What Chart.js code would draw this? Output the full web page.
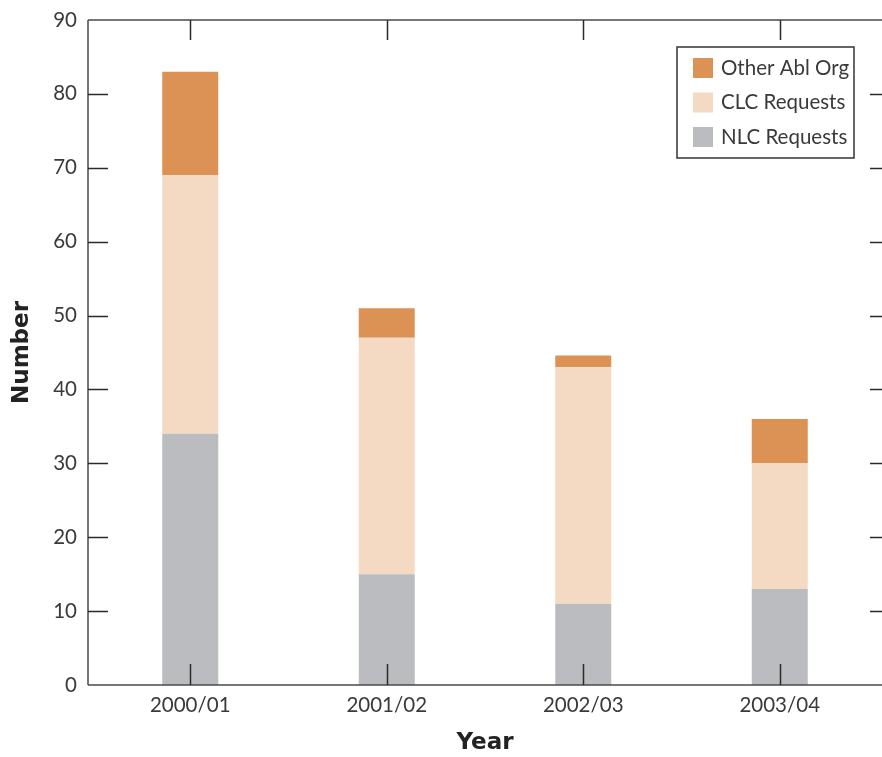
<!DOCTYPE html>
<html>
<head>
<meta charset="utf-8">
<script src="https://cdn.jsdelivr.net/npm/chart.js@4"></script>
<style>
  html, body { margin: 0; padding: 0; background: #fff; }
  #wrap { width: 882px; height: 757px; }
</style>
</head>
<body>
<div id="wrap"><canvas id="chart" width="882" height="757"></canvas></div>
<script>
// Values
const years = ['2000/01', '2001/02', '2002/03', '2003/04'];
const nlcRequests = [34, 15, 11, 13];
const clcRequests = [35, 32, 32, 17];
const otherAblOrg = [14, 4, 1.6, 6];
const yTicks = [0, 10, 20, 30, 40, 50, 60, 70, 80, 90];

const FONT = 'Lato, "Open Sans", sans-serif';
const TITLE_FONT = '"DejaVu Sans", sans-serif';
const TEXT = '#3a3a3a';

// Axis frame, inward ticks and the boxed legend
const framePlugin = {
    id: 'frame',
    afterDatasetsDraw(chart) {
        const ctx = chart.ctx;
        const x = chart.scales.x;
        const y = chart.scales.y;
        const left = 88, right = 882;
        const top = y.getPixelForValue(90);
        const bottom = y.getPixelForValue(0);

        ctx.save();
        ctx.strokeStyle = '#4a4a4a';
        ctx.lineWidth = 1.5;
        ctx.beginPath();
        ctx.moveTo(left, top); ctx.lineTo(right, top);
        ctx.moveTo(left, top); ctx.lineTo(left, bottom);
        ctx.moveTo(left, bottom); ctx.lineTo(right, bottom);
        ctx.stroke();

        ctx.strokeStyle = '#2a2a2a';
        ctx.beginPath();
        yTicks.slice(1, -1).forEach(v => {
            const py = Math.round(y.getPixelForValue(v)) + 0.5;
            ctx.moveTo(left, py); ctx.lineTo(left + 20, py);
            ctx.moveTo(right - 12, py); ctx.lineTo(right, py);
        });
        years.forEach((_, i) => {
            const px = Math.round(x.getPixelForValue(i)) + 0.5;
            ctx.moveTo(px, top); ctx.lineTo(px, top + 20);
            ctx.moveTo(px, bottom); ctx.lineTo(px, bottom - 21);
        });
        ctx.stroke();

        // legend
        const bx = 677, by = 47, bw = 177, bh = 111;
        ctx.fillStyle = '#fff';
        ctx.fillRect(bx, by, bw, bh);
        ctx.strokeStyle = '#333';
        ctx.lineWidth = 1.5;
        ctx.strokeRect(bx, by, bw, bh);
        ctx.font = '20.5px ' + FONT;
        ctx.textBaseline = 'middle';
        ctx.textAlign = 'left';
        const items = chart.data.datasets.slice().reverse();
        items.forEach((ds, i) => {
            const cy = by + 21 + i * 34.5;
            ctx.fillStyle = ds.backgroundColor;
            ctx.fillRect(bx + 16, cy - 10, 20, 20);
            ctx.fillStyle = TEXT;
            ctx.fillText(ds.label, bx + 44, cy);
        });
        ctx.restore();
    }
};

new Chart(document.getElementById('chart'), {
    type: 'bar',
    data: {
        labels: years,
        datasets: [
            { label: 'NLC Requests', data: nlcRequests, backgroundColor: '#bbbcc0' },
            { label: 'CLC Requests', data: clcRequests, backgroundColor: '#f5dac3' },
            { label: 'Other Abl Org', data: otherAblOrg, backgroundColor: '#dc9254' }
        ]
    },
    options: {
        responsive: false,
        animation: false,
        layout: { padding: { top: 20, right: 4, left: 0, bottom: 0 } },
        datasets: {
            bar: { categoryPercentage: 1, barPercentage: 0.285, borderWidth: 0 }
        },
        plugins: {
            legend: { display: false },
            tooltip: { enabled: false }
        },
        scales: {
            x: {
                stacked: true,
                grid: { display: false, drawTicks: false },
                border: { display: false },
                afterFit: s => { s.height = 72; s.paddingLeft = 0; s.paddingRight = 0; },
                ticks: { color: TEXT, font: { family: FONT, size: 20.5 }, padding: 8 },
                title: {
                    display: true, text: 'Year', color: '#222',
                    font: { family: TITLE_FONT, size: 23, weight: 'bold' },
                    padding: { top: 0, bottom: 0 }
                }
            },
            y: {
                stacked: true,
                min: 0, max: 90,
                grid: { display: false, drawTicks: false },
                border: { display: false },
                afterFit: s => { s.width = 92; s.paddingTop = 0; s.paddingBottom = 0; },
                afterBuildTicks: s => { s.ticks = yTicks.map(v => ({ value: v })); },
                ticks: { color: TEXT, font: { family: FONT, size: 20.5 }, padding: 15 },
                title: {
                    display: true, text: 'Number', color: '#222',
                    font: { family: TITLE_FONT, size: 23, weight: 'bold' },
                    padding: { top: 8, bottom: 0 }
                }
            }
        }
    },
    plugins: [framePlugin]
});
</script>
</body>
</html>
